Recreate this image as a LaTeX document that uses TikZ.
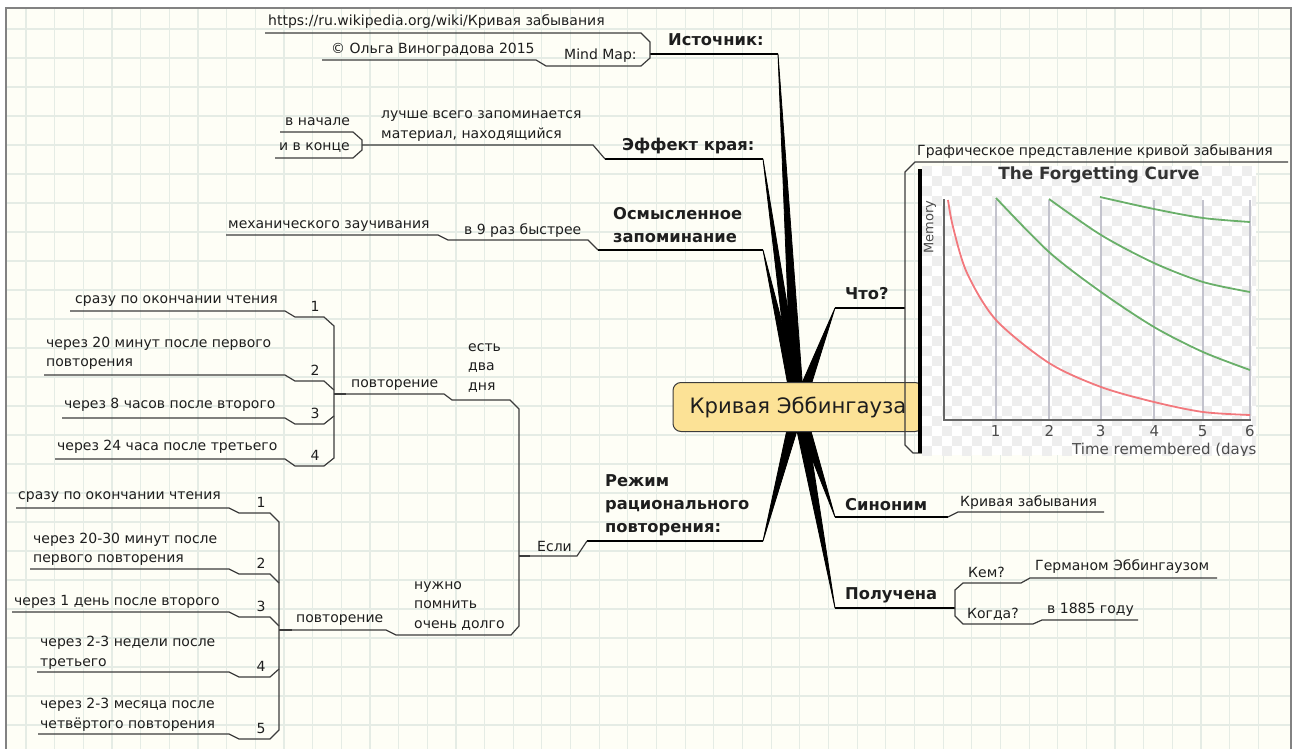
\documentclass[tikz,border=0pt]{standalone}
\usepackage{fontspec}
\setmainfont{DejaVu Sans}
\usetikzlibrary{calc,backgrounds}
\definecolor{paper}{RGB}{254,254,246}
\definecolor{gridc}{RGB}{229,236,229}
\definecolor{frame}{RGB}{130,130,130}
\definecolor{ink}{RGB}{30,30,30}
\definecolor{twig}{RGB}{60,60,60}
\definecolor{honey}{RGB}{252,226,150}
\definecolor{chk}{RGB}{238,238,238}
\definecolor{axisgray}{RGB}{195,195,205}
\definecolor{curvered}{RGB}{242,120,125}
\definecolor{curvegreen}{RGB}{105,175,105}

\begin{document}
\begin{tikzpicture}[x=1pt,y=-1pt,
  txt/.style={anchor=west,inner sep=0,text=ink,align=left,font=\fontsize{14}{19.5}\selectfont},
  topic/.style={txt,font=\fontsize{16.3}{23}\selectfont\bfseries},
  num/.style={inner sep=0,text=ink,font=\fontsize{14}{16}\selectfont},
  ln/.style={twig,line width=1.2pt},
  mainln/.style={black,line width=1.6pt},
  taper/.style={fill=black,draw=black,line width=0.8pt,line join=round}]
  \useasboundingbox (0,0) rectangle (1293,749);
  \begin{scope}[on background layer]
    \fill[white] (0,0) rectangle (1293,749);
    \fill[paper] (6,8) rectangle (1291,749);
    \foreach \i in {0,...,43} \draw[gridc,line width=1.2pt] (26+\i*28.66,8) -- (26+\i*28.66,749);
    \foreach \j in {0,...,24} \draw[gridc,line width=1.2pt] (6,29+\j*29) -- (1291,29+\j*29);
    \draw[frame,line width=1.5pt] (6,749) -- (6,8) -- (1291,8) -- (1291,749);
  \end{scope}

  \node[draw=twig,fill=honey,rounded corners=8pt,line width=1pt,minimum width=250pt,minimum height=49pt,
    text=ink,font=\fontsize{21.2}{24}\selectfont] (root) at (798,407) {Кривая Эббингауза};

  % Источник
  \node[topic] (src) at (668,40) {Источник:};
  \node[txt] (url) at (268,22) {https://ru.wikipedia.org/wiki/Кривая забывания};
  \node[txt] (mm) at (564,56) {Mind Map:};
  \node[txt] (copy) at (331,50) {© Ольга Виноградова 2015};
  \coordinate (srcE) at (778,54);
  \draw[mainln] (650,54) -- (srcE);
  \draw[ln] (265,33) -- (641,33) -- (650,42) -- (650,58) -- (641,66) -- (546,66) -- (536,60) -- (322,60);

  % Эффект края
  \node[topic] (edge) at (622,146) {Эффект края:};
  \node[txt] (best) at (381,126) {лучше всего запоминается\\материал, находящийся};
  \node[txt] (early) at (285,122) {в начале};
  \node[txt] (late) at (279,148) {и в конце};
  \coordinate (edgeE) at (763,159);
  \draw[mainln] (605,159) -- (edgeE);
  \draw[ln] (362,145) -- (593,145) -- (605,159);
  \draw[ln] (280,132) -- (353,132) -- (362,140) -- (362,150) -- (353,158) -- (275,158);

  % Осмысленное запоминание
  \node[topic] (mean) at (613,225) {Осмысленное\\запоминание};
  \node[txt] (fast) at (464,231) {в 9 раз быстрее};
  \node[txt] (mech) at (228,226) {механического заучивания};
  \coordinate (meanE) at (763,250);
  \draw[mainln] (598,250) -- (meanE);
  \draw[ln] (226,235) -- (438,235) -- (448,240) -- (588,240) -- (598,250);

  % Что?
  \node[topic] (what) at (845,294) {Что?};
  \coordinate (whatE) at (835,308);
  \draw[mainln] (whatE) -- (905,308);
  \node[txt] (cap) at (917,152) {Графическое представление кривой забывания};
  \draw[ln] (1288,162) -- (915,162) -- (905,172) -- (905,445) -- (913,453) -- (1255,453);
  \begin{scope}
    \clip (922,166) rectangle (1256,455);
    \fill[white] (922,166) rectangle (1256,455);
    \foreach \x in {922,942,...,1257} \foreach \y in {166,186,...,455}
      {\fill[chk] (\x,\y) rectangle ++(10,10); \fill[chk] (\x+10,\y+10) rectangle ++(10,10);}
    \foreach \d/\x in {1/995.7,2/1049.3,3/1100.7,4/1154.3,5/1202.7,6/1250}
      {\draw[axisgray,line width=2pt] (\x,200) -- (\x,420);
       \node[num,text=black!70,font=\fontsize{15}{16}\selectfont] (t\d) at (\x,431) {\d};}
    \draw[black!60,line width=2pt] (944,199) -- (944,420) -- (1251,420);
    \draw[curvered,line width=1.8pt] plot[smooth] coordinates {(948,200) (953,227) (967,273) (996,320)
      (1049,363) (1101,387) (1154,402) (1203,412) (1250,415)};
    \draw[curvegreen,line width=1.8pt] plot[smooth] coordinates {(996,198) (1049,252) (1101,292)
      (1154,327) (1203,352) (1250,370)};
    \draw[curvegreen,line width=1.8pt] plot[smooth] coordinates {(1049,199) (1101,235) (1154,263)
      (1203,282) (1250,292)};
    \draw[curvegreen,line width=1.8pt] plot[smooth] coordinates {(1100,197) (1154,209) (1203,218) (1250,222)};
    \node[text=black!80,font=\fontsize{16.8}{19}\selectfont\bfseries] (title) at (1099,175) {The Forgetting Curve};
    \node[rotate=90,text=black!70,font=\fontsize{13}{15}\selectfont] (mem) at (930,227) {Memory};
    \node[txt,text=black!70,font=\fontsize{15}{16}\selectfont] (days) at (1072,450) {Time remembered (days)};
  \end{scope}
  \draw[black,line width=3.5pt] (920,169) -- (920,453);

  % Синоним
  \node[topic] (syn) at (845,505) {Синоним};
  \node[txt] (synv) at (960,503) {Кривая забывания};
  \coordinate (synE) at (835,517);
  \draw[mainln] (synE) -- (948,517);
  \draw[ln] (948,517) -- (958,512) -- (1104,512);

  % Получена
  \node[topic] (got) at (845,595) {Получена};
  \node[txt] (who) at (968,572) {Кем?};
  \node[txt] (whov) at (1035,567) {Германом Эббингаузом};
  \node[txt] (when) at (967,614) {Когда?};
  \node[txt] (whenv) at (1047,610) {в 1885 году};
  \coordinate (gotE) at (835,608);
  \draw[mainln] (gotE) -- (955,608);
  \draw[ln] (1217,578) -- (1030,578) -- (1021,583) -- (963,583) -- (955,590) -- (955,616)
    -- (963,624) -- (1033,624) -- (1042,620) -- (1138,620);

  % Режим рационального повторения
  \node[topic] (mode) at (605,505) {Режим\\рационального\\повторения:};
  \node[txt] (if) at (537,546) {Если};
  \coordinate (modeE) at (763,541);
  \draw[mainln] (587,541) -- (modeE);
  \draw[ln] (519,556) -- (577,556) -- (587,541);
  \draw[ln] (334,394) -- (444,394) -- (452,400) -- (510,400) -- (519,409) -- (519,626)
    -- (511,635) -- (396,635) -- (386,630) -- (279,630);
  \draw[twig,line width=2.5pt] (519,556) -- (530,556);
  \node[txt] (two) at (468,368) {есть\\два\\дня};
  \node[txt] (long) at (414,606) {нужно\\помнить\\очень долго};

  % есть два дня
  \node[txt] (rep) at (351,385) {повторение};
  \node[txt] (a1) at (75,301) {сразу по окончании чтения};
  \node[txt] (a2) at (46,353.5) {через 20 минут после первого\\повторения};
  \node[txt] (a3) at (64,405) {через 8 часов после второго};
  \node[txt] (a4) at (57,447) {через 24 часа после третьего};
  \foreach \k/\y in {1/306,2/370,3/413,4/455} \node[num] (n\k) at (315,\y) {\k};
  \draw[ln] (70,311) -- (285,311) -- (295,317) -- (324,317) -- (334,326) -- (334,458) -- (324,466)
    -- (295,466) -- (285,459) -- (55,459);
  \draw[ln] (44,375) -- (285,375) -- (295,381) -- (324,381) -- (334,390);
  \draw[ln] (62,418) -- (285,418) -- (295,424) -- (324,424) -- (334,416);
  \draw[twig,line width=2.5pt] (334,394) -- (346,394);

  % нужно помнить очень долго
  \node[txt] (rep2) at (296,620) {повторение};
  \node[txt] (b1) at (18,497) {сразу по окончании чтения};
  \node[txt] (b2) at (33,549.5) {через 20-30 минут после\\первого повторения};
  \node[txt] (b3) at (14,602) {через 1 день после второго};
  \node[txt] (b4) at (40,653) {через 2-3 недели после\\третьего};
  \node[txt] (b5) at (40,715) {через 2-3 месяца после\\четвёртого повторения};
  \foreach \k/\y in {1/502,2/563,3/606,4/666,5/728} \node[num] (m\k) at (261,\y) {\k};
  \draw[ln] (16,508) -- (229,508) -- (239,513) -- (270,513) -- (279,522) -- (279,730) -- (270,739)
    -- (239,739) -- (229,734) -- (38,734);
  \draw[ln] (30,569) -- (229,569) -- (239,574) -- (270,574) -- (279,583);
  \draw[ln] (12,612) -- (229,612) -- (239,617) -- (270,617) -- (279,626);
  \draw[ln] (37,672) -- (229,672) -- (239,677) -- (270,677) -- (279,669);
  \draw[twig,line width=2.5pt] (279,630) -- (292,630);

  \begin{scope}[on background layer]
    \foreach \e in {srcE,edgeE,meanE,whatE,modeE,synE,gotE}
      \filldraw[taper] (root.center) -- ($(root.center)!6pt!90:(\e)$) -- (\e)
        -- ($(root.center)!6pt!-90:(\e)$) -- cycle;
  \end{scope}
\end{tikzpicture}
\end{document}
